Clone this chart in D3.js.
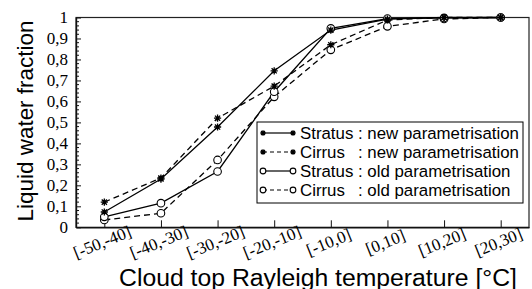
<!DOCTYPE html>
<html><head><meta charset="utf-8">
<script src="https://cdn.jsdelivr.net/npm/d3@7"></script>
<style>body{margin:0;background:#fff}svg{display:block}</style>
</head><body>
<svg id="c" width="532" height="289"></svg>
<script>
const categories = ["[-50,-40]","[-40,-30]","[-30,-20]","[-20,-10]","[-10,0]","[0,10]","[10,20]","[20,30]"];
const stratusNew = [0.073,0.230,0.478,0.746,0.940,0.992,1.000,1.000];
const cirrusNew  = [0.120,0.235,0.520,0.673,0.870,0.988,1.000,1.000];
const stratusOld = [0.050,0.115,0.266,0.646,0.948,0.995,0.998,1.000];
const cirrusOld  = [0.035,0.067,0.321,0.622,0.846,0.958,0.993,1.000];
const yTicks = [0,0.1,0.2,0.3,0.4,0.5,0.6,0.7,0.8,0.9,1];
const yTickLabels = ["0","0,1","0,2","0,3","0,4","0,5","0,6","0,7","0,8","0,9","1"];
const seriesNames = ["Stratus","Cirrus","Stratus","Cirrus"];
const seriesDesc = [": new parametrisation",": new parametrisation",": old parametrisation",": old parametrisation"];

const series = [
  {name:seriesNames[0], desc:seriesDesc[0], values:stratusNew, dash:null, marker:"star"},
  {name:seriesNames[1], desc:seriesDesc[1], values:cirrusNew, dash:"6,4", marker:"star"},
  {name:seriesNames[2], desc:seriesDesc[2], values:stratusOld, dash:null, marker:"circle"},
  {name:seriesNames[3], desc:seriesDesc[3], values:cirrusOld, dash:"6,4", marker:"circle"}
];

const SERIF = "'Liberation Serif'";
const SANS = "'Liberation Sans'";

const svg = d3.select("#c");
const L=76, R=529, T=17.5, B=227.3;
const x = d3.scalePoint().domain(categories).range([L,R]).padding(0.5);
const y = d3.scaleLinear().domain([0,1]).range([B,T]);

function fitSize(sel, target){
  sel.style("font-size","20px");
  const w = sel.node().getComputedTextLength();
  const fs = 20*target/w;
  sel.style("font-size", fs+"px");
  return fs;
}

// frame
svg.append("rect").attr("x",L).attr("y",T).attr("width",R-L).attr("height",B-T)
  .attr("fill","none").attr("stroke","#222").attr("stroke-width",1.2);

// y axis
const yAxis = d3.axisLeft(y).tickValues(yTicks).tickFormat((d,i)=>yTickLabels[i]).tickSizeInner(-5).tickSizeOuter(0).tickPadding(8);
const gy = svg.append("g").attr("transform",`translate(${L},0)`).call(yAxis);
gy.attr("font-family",null).attr("font-size",null);
gy.select(".domain").attr("stroke","#111").attr("stroke-width",1.4);
gy.selectAll("text").style("font-family",SERIF).style("font-size","17px").attr("fill","#000");
gy.selectAll("line").attr("stroke","#111");
const minor = d3.range(0,1.0001,0.02).filter(v=>Math.abs(v*10-Math.round(v*10))>1e-6);
svg.append("g").selectAll("line").data(minor).join("line")
  .attr("x1",L).attr("x2",L+3).attr("y1",d=>y(d)).attr("y2",d=>y(d)).attr("stroke","#111");

// x axis
const xAxis = d3.axisBottom(x).tickSizeInner(-7).tickSizeOuter(0).tickFormat("");
const gx = svg.append("g").attr("transform",`translate(0,${B})`).call(xAxis);
gx.select(".domain").attr("stroke","#111").attr("stroke-width",1.4);
gx.selectAll("line").attr("stroke","#111");
svg.append("g").selectAll("text").data(categories).join("text")
  .style("font-family",SERIF).style("font-size","17px")
  .attr("transform",d=>`translate(${x(d)-2},${B+15}) rotate(-22)`)
  .attr("text-anchor","middle").attr("dominant-baseline","central")
  .text(d=>d);

// titles
const xt = svg.append("text").style("font-family",SANS)
  .attr("x",318).attr("y",285.5).attr("text-anchor","middle")
  .text("Cloud top Rayleigh temperature [°C]");
fitSize(xt, 398);
const yt = svg.append("text").style("font-family",SANS)
  .attr("transform","translate(33,121) rotate(-90)").attr("text-anchor","middle")
  .text("Liquid water fraction");
fitSize(yt, 201);

function starPath(s){
  const a=s, b=s*0.72;
  return `M${-a},0L${a},0M0,${-a}L0,${a}M${-b},${-b}L${b},${b}M${-b},${b}L${b},${-b}`;
}
function drawMarker(g, type, cx, cy, scale){
  if(type==="star"){
    g.append("path").attr("d",starPath(3.6*scale)).attr("transform",`translate(${cx},${cy})`)
      .attr("stroke","#000").attr("stroke-width",1.3).attr("fill","none");
  } else {
    g.append("circle").attr("cx",cx).attr("cy",cy).attr("r",3.8*scale)
      .attr("fill","#fff").attr("stroke","#000").attr("stroke-width",1.1);
  }
}

const line = d3.line().x((d,i)=>x(categories[i])).y(d=>y(d));
const plot = svg.append("g");
[3,2,1,0].forEach(k=>{
  const s=series[k];
  plot.append("path").attr("d",line(s.values)).attr("fill","none").attr("stroke","#000")
    .attr("stroke-width",1.3).attr("stroke-dasharray",s.dash);
});
[3,2,1,0].forEach(k=>{
  const s=series[k];
  s.values.forEach((v,i)=>drawMarker(plot,s.marker,x(categories[i]),y(v),1));
});

// legend
const lg = svg.append("g");
lg.append("rect").attr("x",257).attr("y",122).attr("width",266).attr("height",81)
  .attr("fill","#fff").attr("stroke","#000").attr("stroke-width",1);
const rowY=[133,152,171,190];
const probe = lg.append("text").style("font-family",SANS).text("Stratus : new parametrisation");
const lfs = fitSize(probe, 219);
probe.remove();
const p2 = lg.append("text").style("font-family",SANS).style("font-size",lfs+"px").text("Stratus");
const wName = p2.node().getComputedTextLength();
p2.remove();
const colonX = 300 + wName + lfs*0.28;
series.forEach((s,k)=>{
  const yy=rowY[k];
  lg.append("line").attr("x1",263).attr("x2",293).attr("y1",yy).attr("y2",yy)
    .attr("stroke","#000").attr("stroke-width",1.2).attr("stroke-dasharray",s.dash?"4,3":null);
  drawMarker(lg,s.marker,263,yy,0.75);
  drawMarker(lg,s.marker,293,yy,0.75);
  lg.append("text").style("font-family",SANS).style("font-size",lfs+"px")
    .attr("x",300).attr("y",yy).attr("dominant-baseline","central").text(s.name);
  lg.append("text").style("font-family",SANS).style("font-size",lfs+"px")
    .attr("x",colonX).attr("y",yy).attr("dominant-baseline","central").text(s.desc);
});
</script>
</body></html>
